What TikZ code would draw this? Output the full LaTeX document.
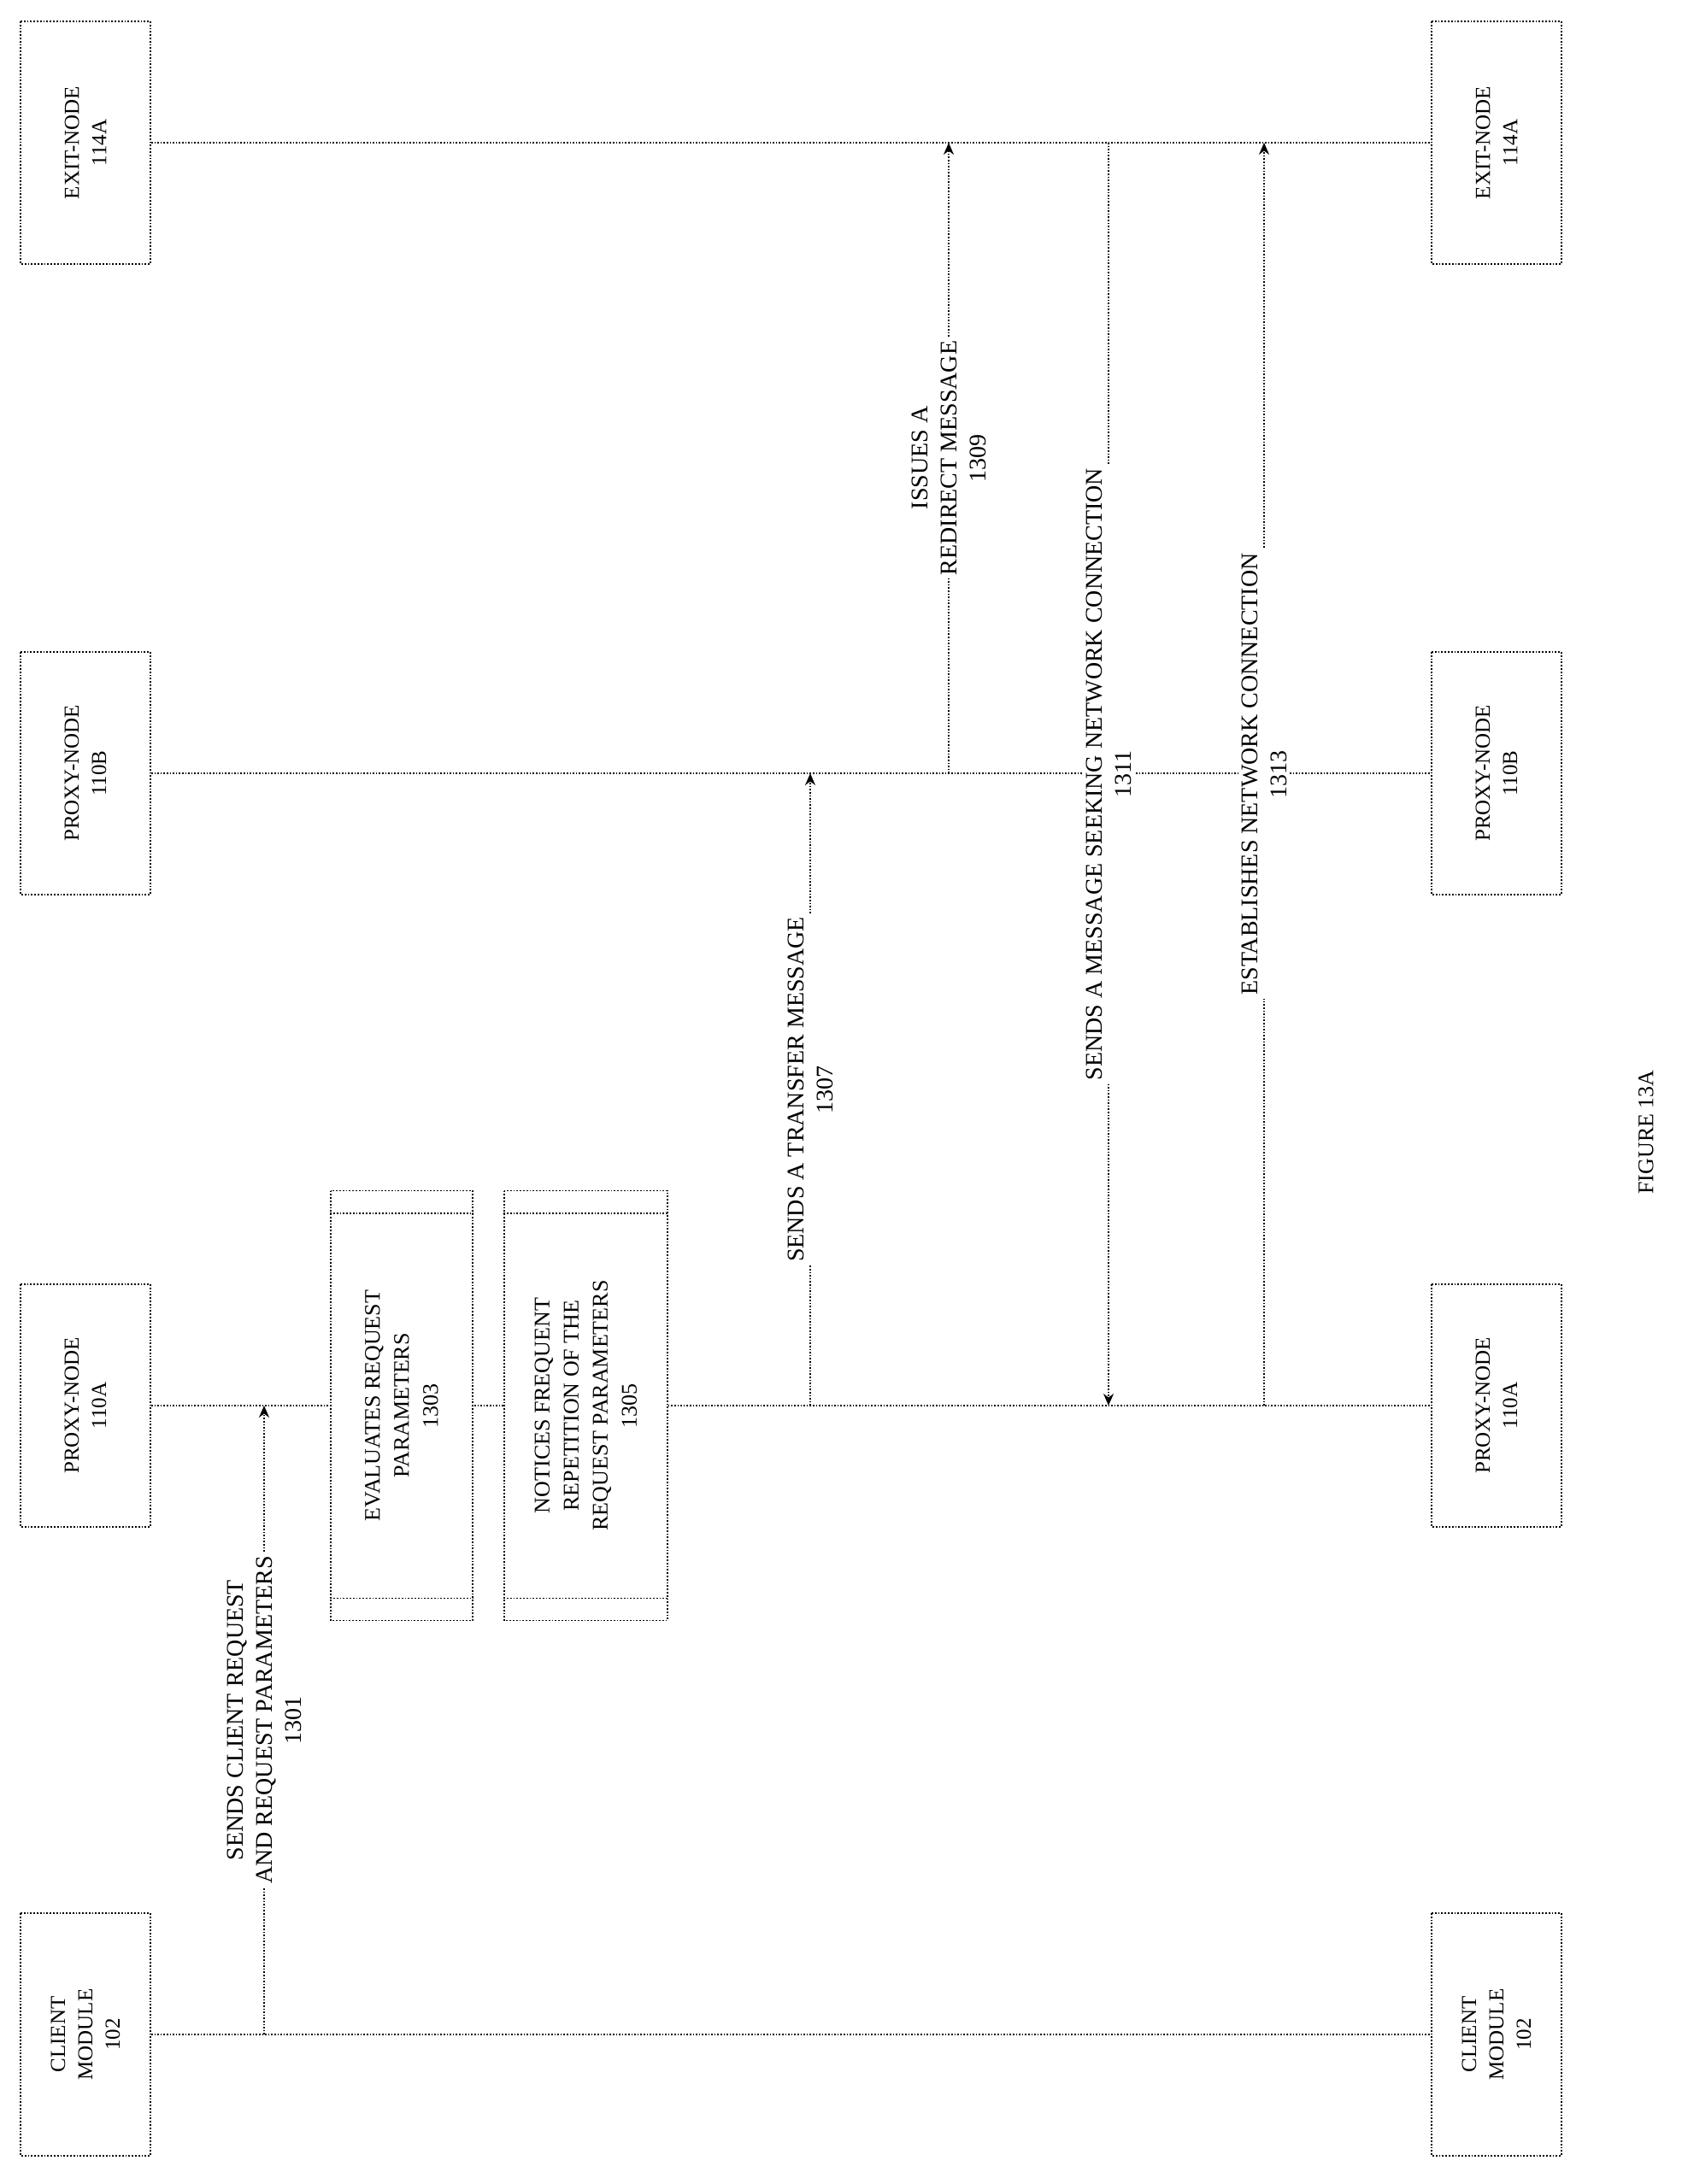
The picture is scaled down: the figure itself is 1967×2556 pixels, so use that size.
\documentclass[tikz,border=0pt]{standalone}
\usepackage{fontspec}
\setmainfont{Liberation Serif}
\usetikzlibrary{arrows.meta}
\begin{document}
\begin{tikzpicture}[x=0.5pt,y=-0.5pt,
  ln/.style={densely dotted, line width=0.8pt},
  box/.style={draw, densely dotted, line width=0.9pt, rotate=90, minimum width=142pt, minimum height=76pt, align=center, font=\fontsize{12.5}{16}\selectfont, fill=white},
  act/.style={draw, densely dotted, line width=0.9pt, rotate=90, minimum width=251.5pt, align=center, font=\fontsize{13}{17}\selectfont, fill=white},
  msg/.style={ln, -{Stealth[length=7pt,width=6pt]}},
  lbl/.style={rotate=90, fill=white, align=center, font=\fontsize{14}{17}\selectfont, inner sep=2pt}]
\useasboundingbox (0,0) rectangle (1967,2556);
% left boxes
\node[box] (cl) at (100,2381) {CLIENT\\MODULE\\102};
\node[box] (al) at (100,1645) {PROXY-NODE\\110A};
\node[box] (bl) at (100,905) {PROXY-NODE\\110B};
\node[box] (el) at (100,167) {EXIT-NODE\\114A};
% right boxes
\node[box] (cr) at (1751,2381) {CLIENT\\MODULE\\102};
\node[box] (ar) at (1751,1645) {PROXY-NODE\\110A};
\node[box] (br) at (1751,905) {PROXY-NODE\\110B};
\node[box] (er) at (1751,167) {EXIT-NODE\\114A};
% lifelines
\draw[ln] (cl.south) -- (cr.north);
\draw[ln] (al.south) -- (ar.north);
\draw[ln] (bl.south) -- (br.north);
\draw[ln] (el.south) -- (er.north);
% activation boxes
\node[act, minimum height=83pt] (a3) at (470,1645) {EVALUATES REQUEST\\PARAMETERS\\1303};
\node[act, minimum height=95.5pt] (a5) at (685.5,1645) {NOTICES FREQUENT\\REPETITION OF THE\\REQUEST PARAMETERS\\1305};
\foreach \n in {a3,a5}{
  \draw[densely dotted, line width=0.9pt] ([yshift=-13.5pt]\n.north east) -- ([yshift=-13.5pt]\n.south east);
  \draw[densely dotted, line width=0.9pt] ([yshift=13.5pt]\n.north west) -- ([yshift=13.5pt]\n.south west);
}
% messages
\coordinate (m1s) at (309,2381); \coordinate (m1e) at (309,1645);
\coordinate (m2s) at (948,1645); \coordinate (m2e) at (948,905);
\coordinate (m3s) at (1110,905); \coordinate (m3e) at (1110,167);
\coordinate (m4s) at (1297,167); \coordinate (m4e) at (1297,1645);
\coordinate (m5s) at (1479,1645); \coordinate (m5e) at (1479,167);
\draw[msg] (m1s) -- node[lbl] {SENDS CLIENT REQUEST\\AND REQUEST PARAMETERS\\1301} (m1e);
\draw[msg] (m2s) -- node[lbl] {SENDS A TRANSFER MESSAGE\\1307} (m2e);
\draw[msg] (m3s) -- node[lbl] {ISSUES A\\REDIRECT MESSAGE\\1309} (m3e);
\draw[msg] (m4s) -- node[lbl] {SENDS A MESSAGE SEEKING NETWORK CONNECTION\\1311} (m4e);
\draw[msg] (m5s) -- node[lbl] {ESTABLISHES NETWORK CONNECTION\\1313} (m5e);
\node[rotate=90, font=\fontsize{13}{16}\selectfont] (fig) at (1926,1325) {FIGURE 13A};
\end{tikzpicture}
\end{document}
